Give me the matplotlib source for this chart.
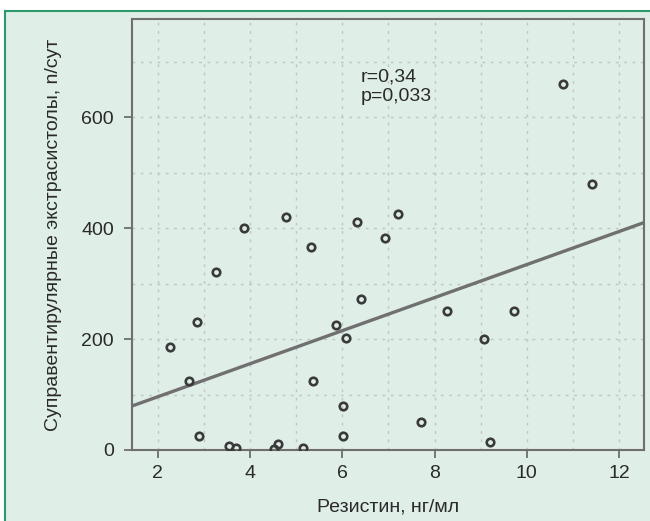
import numpy as np
import matplotlib
matplotlib.use("Agg")
import matplotlib.pyplot as plt
from matplotlib.lines import Line2D

plt.rcParams['font.family'] = ['Liberation Sans', 'DejaVu Sans']

# resistin (ng/ml) vs supraventricular extrasystoles per day
resistin = [2.27, 2.67, 2.85, 2.89, 3.27, 3.54, 3.69, 3.87, 4.52, 4.61,
            4.77, 5.16, 5.32, 5.37, 5.86, 6.01, 6.01, 6.09, 6.33, 6.40,
            6.92, 7.20, 7.70, 8.26, 9.08, 9.21, 9.72, 10.78, 11.41]
extrasys = [186, 125, 230, 26, 320, 7, 3, 400, 2, 11,
            420, 3, 366, 124, 225, 80, 25, 202, 411, 272,
            383, 425, 50, 250, 200, 15, 250, 659, 479]

# regression line
fit_slope = 29.8
fit_intercept = 36.3

stats_text = "r=0,34\np=0,033"
xlabel = "Резистин, нг/мл"
ylabel = "Суправентирулярные экстрасистолы, n/сут"

bg = '#dfeee7'
dark = '#3a3a3a'
axis_grey = '#6f6f6f'
txt = '#2a2a2a'

fig = plt.figure(figsize=(6.5, 5.21), dpi=100)
fig.patch.set_facecolor('white')

# green panel frame (top and left visible)
panel = plt.Rectangle((5 / 650, 0), 1, 1 - 11 / 521, transform=fig.transFigure,
                      facecolor=bg, edgecolor='none', zorder=-10)
fig.patches.append(panel)
fig.lines.append(Line2D([5 / 650, 1], [1 - 11 / 521] * 2, transform=fig.transFigure,
                        color='#2e9a6c', lw=1.5, zorder=-5))
fig.lines.append(Line2D([5 / 650] * 2, [0, 1 - 11 / 521], transform=fig.transFigure,
                        color='#2e9a6c', lw=1.5, zorder=-5))

ax = fig.add_axes([132 / 650, 71 / 521, 512 / 650, 431 / 521])
ax.set_facecolor(bg)

ax.set_xlim(1.443, 12.54)
ax.set_ylim(0, 777)
ax.set_xticks([2, 4, 6, 8, 10, 12])
ax.set_yticks([0, 200, 400, 600])
ax.set_xticks(np.arange(2, 13, 1), minor=True)
ax.set_yticks(np.arange(100, 800, 100), minor=True)

ax.grid(True, which='both', color='#bcc8c2', linestyle=(0, (2, 4)), lw=1.0)
ax.set_axisbelow(True)

xs = np.array([1.443, 12.54])
ax.plot(xs, fit_intercept + fit_slope * xs, color='#707070', lw=2.4, zorder=2)

ax.plot(resistin, extrasys, linestyle='none', marker='o', markersize=5.4,
        markerfacecolor='none', markeredgecolor=dark, markeredgewidth=1.9, zorder=3)

ax.text(6.4, 655, stats_text, fontsize=14, color=txt, ha='left', va='center',
        linespacing=1.15)

for s in ax.spines.values():
    s.set_color(axis_grey)
    s.set_linewidth(1.5)

ax.tick_params(which='major', direction='out', length=6, width=1.3, color=axis_grey,
               labelsize=14, labelcolor=txt)
ax.tick_params(axis='y', which='major', pad=7)
ax.tick_params(axis='x', which='major', pad=5)
ax.tick_params(which='minor', length=0)

ax.set_xlabel(xlabel, fontsize=14, color=txt, labelpad=12)
ax.set_ylabel(ylabel, fontsize=14, color=txt, labelpad=14)

fig.savefig('out.png', dpi=100, facecolor=fig.get_facecolor())
